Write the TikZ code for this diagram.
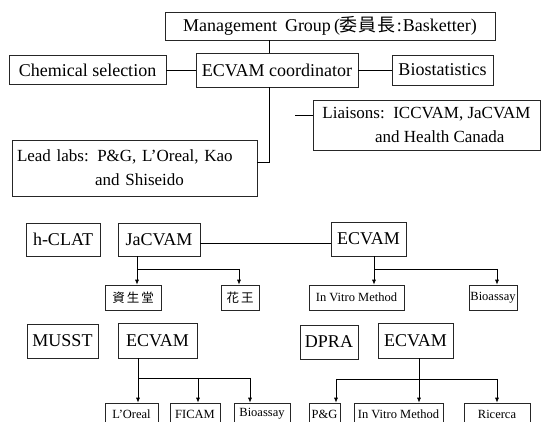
\documentclass[tikz,border=0pt]{standalone}
\usepackage{fontspec}
\setmainfont{Liberation Serif}
\newfontfamily\cjk{Noto Sans CJK JP}
\usetikzlibrary{arrows.meta}
\newcommand\fbig{\fontsize{18}{24}\selectfont}
\newcommand\fmid{\fontsize{17}{24}\selectfont}
\newcommand\fsml{\fontsize{12.5}{14}\selectfont}
\begin{document}
\begin{tikzpicture}[x=1pt,y=-1pt,
  box/.style={draw=black!85, line width=0.6pt, inner sep=0pt, align=center, font=\fbig},
  mbox/.style={box, font=\fmid},
  sbox/.style={box, font=\fsml},
  ln/.style={draw=black, line width=0.7pt},
  arr/.style={ln, -{Latex[length=5pt,width=4pt]}}]
\useasboundingbox (0,0) rectangle (542,422);
\clip (0,0) rectangle (542,422);
\fill[white] (0,0) rectangle (542,422);

% top section
\node[box, minimum width=330, minimum height=28] (mg) at (330,26)
  {Management\hspace{8pt}Group\hspace{3pt}({\cjk 委\hspace{1pt}員\hspace{1pt}長}\hspace{1pt}:\hspace{1pt}Basketter)};
\node[box, minimum width=157, minimum height=29] (chem) at (87.5,70) {Chemical selection};
\node[box, minimum width=162, minimum height=34] (ecoord) at (277,70) {ECVAM coordinator};
\node[box, minimum width=101, minimum height=30] (bio) at (442.5,70) {Biostatistics};
\node[mbox, minimum width=245, minimum height=56, text width=235, align=left] (lead) at (134.5,168)
  {Lead labs: P\&G, L’Oreal, Kao\\\hspace*{4.6em}and Shiseido};
\node[mbox, minimum width=227, minimum height=50, align=left] (liaison) at (426.5,125)
  {Liaisons:\ \ ICCVAM, JaCVAM\\\hspace*{3.1em}and Health Canada};

\coordinate (v) at (269,0);
\draw[ln] (mg.south -| v) -- (ecoord.north -| v);
\draw[ln] (chem.east) -- (ecoord.west |- chem.east);
\draw[ln] (ecoord.east) -- (bio.west |- ecoord.east);
\coordinate (lk) at (269,162);
\draw[ln] (ecoord.south -| lk) -- (lk) -- (lead.east |- lk);
\coordinate (ls) at (295,115);
\draw[ln] (ls) -- (liaison.west |- ls);

% h-CLAT
\node[box, minimum width=74, minimum height=33] (hclat) at (63,239.5) {h-CLAT};
\node[box, minimum width=82, minimum height=33] (jacvam) at (159,239.5) {JaCVAM};
\node[box, minimum width=75, minimum height=34] (ecv1) at (368.5,239) {ECVAM};
\node[sbox, minimum width=56, minimum height=25] (shiseido) at (133,297.5) {\cjk 資\hspace{2pt}生\hspace{2pt}堂};
\node[sbox, minimum width=38, minimum height=25] (kao) at (240,297.5) {\cjk 花\hspace{2pt}王};
\node[sbox, minimum width=95, minimum height=25] (ivm1) at (356.5,297.5) {In Vitro Method};
\node[sbox, minimum width=48, minimum height=25] (bioa1) at (493,297.5) {Bioassay};

\coordinate (jy) at (0,243);
\draw[ln] (jacvam.east |- jy) -- (ecv1.west |- jy);
\coordinate (j0) at (137,269);
\coordinate (j1) at (239,269);
\draw[ln] (jacvam.south -| j0) -- (j0) -- (j1);
\draw[arr] (j0) -- (shiseido.north -| j0);
\draw[arr] (j1) -- (kao.north -| j1);
\coordinate (e0) at (374,269);
\coordinate (e1) at (497,269);
\draw[ln] (ecv1.south -| e0) -- (e0) -- (e1);
\draw[arr] (e0) -- (ivm1.north -| e0);
\draw[arr] (e1) -- (bioa1.north -| e1);

% MUSST
\node[box, minimum width=71, minimum height=34] (musst) at (62.5,341) {MUSST};
\node[box, minimum width=79, minimum height=35] (ecv2) at (157.5,340.5) {ECVAM};
\node[sbox, minimum width=53, minimum height=22] (loreal) at (131.5,414) {L’Oreal};
\node[sbox, minimum width=50, minimum height=22] (ficam) at (195,414) {FICAM};
\node[sbox, minimum width=56, minimum height=22] (bioa2) at (262,414) {Bioassay};
\coordinate (m0) at (138,378);
\coordinate (m1) at (198,378);
\coordinate (m2) at (250,378);
\draw[ln] (ecv2.south -| m0) -- (m0) -- (m2);
\draw[arr] (m0) -- (loreal.north -| m0);
\draw[arr] (m1) -- (ficam.north -| m1);
\draw[arr] (m2) -- (bioa2.north -| m2);

% DPRA
\node[box, minimum width=58, minimum height=34] (dpra) at (329,342) {DPRA};
\node[box, minimum width=75, minimum height=35] (ecv3) at (415.5,340.5) {ECVAM};
\node[sbox, minimum width=31, minimum height=22] (pg) at (324.5,414) {P\&G};
\node[sbox, minimum width=89, minimum height=22] (ivm2) at (398.5,414) {In Vitro Method};
\node[sbox, minimum width=66, minimum height=22] (ricerca) at (497,414) {Ricerca};
\coordinate (d0) at (336,379);
\coordinate (d1) at (419,379);
\coordinate (d2) at (497,379);
\draw[ln] (ecv3.south -| d1) -- (d1);
\draw[ln] (d0) -- (d2);
\draw[arr] (d0) -- (pg.north -| d0);
\draw[arr] (d1) -- (ivm2.north -| d1);
\draw[arr] (d2) -- (ricerca.north -| d2);
\end{tikzpicture}
\end{document}
